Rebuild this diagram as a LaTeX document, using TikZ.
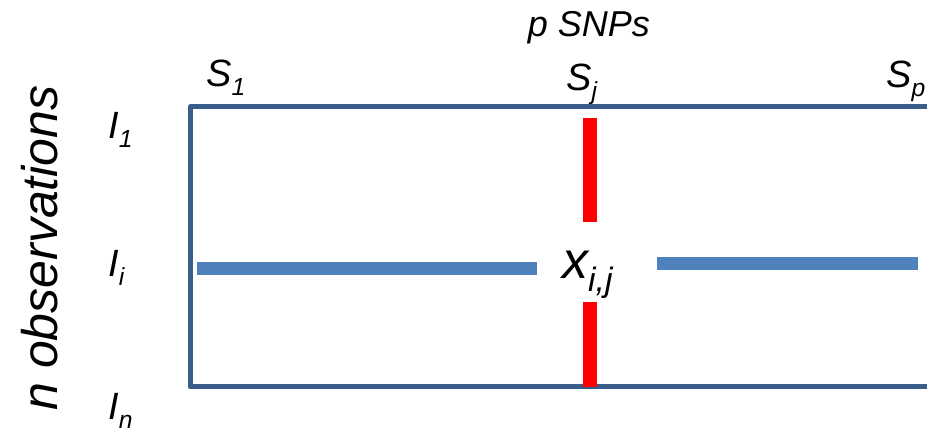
\documentclass[tikz,border=0pt]{standalone}
\usepackage{fontspec}
\setmainfont{Liberation Sans}
\usepackage{graphicx}
\definecolor{framecol}{HTML}{385D8A}
\definecolor{barblue}{HTML}{4F81BD}
\definecolor{barred}{HTML}{FF0000}
\newcommand{\lowsub}[2][0.22em]{\raisebox{-#1}{\scalebox{0.65}{#2}}}
\tikzset{
  frameline/.style={draw=framecol, line width=5pt, line join=round},
  redbar/.style={draw=barred, line width=14pt},
  bluebar/.style={draw=barblue, line width=13pt},
  lbl/.style={inner sep=0pt, font=\fontsize{38}{40}\selectfont\itshape},
}
\begin{document}
\begin{tikzpicture}[x=1pt, y=-1pt]
\useasboundingbox (0,0) rectangle (927,435);
% frame
\coordinate (tr) at (930,107);
\coordinate (tl) at (190,107);
\coordinate (bl) at (190,387);
\coordinate (br) at (930,387);
\draw[frameline] (tr) -- (tl) -- (bl) -- (br);
% red bars
\coordinate (r1a) at (590,118);
\coordinate (r1b) at (590,222);
\coordinate (r2a) at (590,302);
\coordinate (r2b) at (590,387);
\draw[redbar] (r1a) -- (r1b);
\draw[redbar] (r2a) -- (r2b);
% blue bars
\coordinate (b1a) at (197,268.5);
\coordinate (b1b) at (537,268.5);
\coordinate (b2a) at (657,263.5);
\coordinate (b2b) at (918,263.5);
\draw[bluebar] (b1a) -- (b1b);
\draw[bluebar] (b2a) -- (b2b);
% labels
\node[lbl, anchor=base, font=\fontsize{36}{38}\selectfont\itshape] (psnps) at (589,37) {p SNPs};
\node[lbl, anchor=base west] (s1) at (206,87) {S\lowsub{1}};
\node[lbl, anchor=base west] (sj) at (566,91) {S\lowsub{j}};
\node[lbl, anchor=base west] (sp) at (886,88) {S\lowsub{p}};
\node[lbl, anchor=base west] (i1) at (108,139) {I\lowsub{1}};
\node[lbl, anchor=base west] (ii) at (108,277) {I\lowsub{i}};
\node[lbl, anchor=base west] (in) at (108,420) {I\lowsub{n}};
\node[lbl, anchor=base west, font=\fontsize{52}{54}\selectfont\itshape] (xij) at (562,279) {x\lowsub[0.25em]{i,j}};
\node[lbl, anchor=base, rotate=90, font=\fontsize{50}{52}\selectfont\itshape] (nobs) at (57,248) {n observations};
\end{tikzpicture}
\end{document}
